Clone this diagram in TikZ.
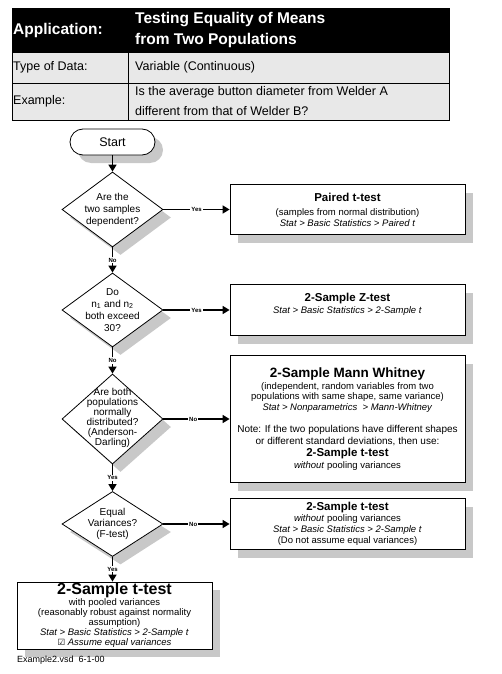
\documentclass[tikz,border=0pt]{standalone}
\usepackage{fontspec}
\setmainfont{Liberation Sans}
\newfontfamily\symfont{DejaVu Sans}
\usetikzlibrary{shapes.geometric,arrows.meta}

\definecolor{rowgray}{RGB}{232,232,232}
\definecolor{shadowgray}{RGB}{200,200,200}

\newcommand{\boxtitle}{\bfseries\fontsize{11.5}{13}\selectfont}
\newcommand{\bigboxtitle}{\bfseries\fontsize{13.5}{15}\selectfont}
\newcommand{\hugeboxtitle}{\bfseries\fontsize{16}{17}\selectfont}

\tikzset{
    shadowed/.style={preaction={fill=shadowgray, draw=none, transform canvas={xshift=8pt, yshift=-8pt}}},
    cell/.style={anchor=west, inner sep=2pt, align=left},
    headtext/.style={cell, text=white, font=\bfseries\fontsize{15.5}{21.5}\selectfont},
    bodytext/.style={cell, font=\fontsize{12.5}{20}\selectfont},
    decision/.style={diamond, draw, line width=0.8pt, fill=white, inner sep=0pt, minimum width=101pt, shadowed},
    qtext/.style={align=center, inner sep=0pt, font=\fontsize{10}{12}\selectfont},
    result/.style={rectangle, draw, line width=0.8pt, fill=white, align=center, minimum width=235pt, inner sep=2pt, shadowed},
    flow/.style={line width=1.6pt, -{Triangle[length=7pt, width=8pt]}},
    answer/.style={fill=white, inner sep=1pt, font=\bfseries\fontsize{6}{6}\selectfont}
}

\begin{document}
\begin{tikzpicture}[x=1pt, y=1pt, every node/.style={font=\fontsize{9.5}{11}\selectfont}]
            \useasboundingbox (0,0) rectangle (501,-674);

            \fill[black] (12,-8) rectangle (449,-52);
            \filldraw[fill=rowgray, line width=0.8pt] (12,-52) rectangle (449,-83);
            \filldraw[fill=rowgray, line width=0.8pt] (12,-83) rectangle (449,-120);
            \draw[line width=0.8pt] (128,-52) -- (128,-120);
            \draw[line width=0.8pt] (12,-8) rectangle (449,-120);

            \node[headtext] (app) at (11,-30) {Application:};
            \node[headtext] (apptitle) at (133,-30) {Testing Equality of Means\\from Two Populations};
            \node[bodytext] (typelbl) at (11,-67) {Type of Data:};
            \node[bodytext] (typeval) at (133,-67) {Variable (Continuous)};
            \node[bodytext] (exlbl) at (11,-101) {Example:};
            \node[bodytext] (exval) at (133,-101.5) {Is the average button diameter from Welder A\\different from that of Welder B?};

            \node[rectangle, draw, line width=0.8pt, fill=white, rounded corners=13pt, minimum width=85pt, minimum height=26pt, shadowed, font=\fontsize{12.5}{14}\selectfont] (start) at (112.5,-142) {Start};

            \node[decision, minimum height=75pt] (q1) at (112.5,-209.5) {};
            \node[qtext] (q1t) at (q1) {Are the\\two samples\\dependent?};
            \node[decision, minimum height=74pt] (q2) at (112.5,-310) {};
            \node[qtext] (q2t) at (q2) {Do\\n\textsubscript{1} and n\textsubscript{2}\\both exceed\\30?};
            \node[decision, minimum height=90pt] (q3) at (112.5,-419) {};
            \node[qtext, font=\fontsize{10}{10}\selectfont] (q3t) at ([yshift=1pt]q3.center) {Are both\\populations\\normally\\distributed?\\(Anderson-\\Darling)};
            \node[decision, minimum height=65pt] (q4) at (112.5,-524) {};
            \node[qtext, font=\fontsize{10}{11}\selectfont] (q4t) at (q4) {Equal\\Variances?\\(F-test)};

            \node[result, minimum height=50pt] (paired) at (347.5,-209.5) {{\boxtitle Paired t-test}\\[3pt]
                (samples from normal distribution)\\
                \textit{Stat > Basic Statistics > Paired t}};
            \node[result, minimum height=51pt] (ztest) at (347.5,-310) {};
            \node[align=center, inner sep=0pt] (ztestt) at ([yshift=6pt]ztest.center) {{\boxtitle 2-Sample Z-test}\\[1pt]
                \textit{Stat > Basic Statistics > 2-Sample t}};
            \node[result, minimum height=127pt, font=\fontsize{9.5}{10.5}\selectfont] (mann) at (347.5,-419) {{\bigboxtitle 2-Sample Mann Whitney}\\[1pt]
                (independent, random variables from two\\
                populations with same shape, same variance)\\
                \textit{Stat > Nonparametrics~ > Mann-Whitney}\\[12pt]
                {\fontsize{10}{12}\selectfont Note: If the two populations have different shapes}\\[1.5pt]
                {\fontsize{10}{12}\selectfont or different standard deviations, then use:}\\[1.5pt]
                {\boxtitle 2-Sample t-test}\\[1pt]
                \textit{without} pooling variances};
            \node[result, minimum height=51pt] (unpooled) at (347.5,-524) {{\boxtitle 2-Sample t-test}\\
                \textit{without} pooling variances\\
                \textit{Stat > Basic Statistics > 2-Sample t}\\
                (Do not assume equal variances)};
            \node[result, minimum width=195pt, minimum height=67pt, inner sep=0pt, font=\fontsize{9.5}{10}\selectfont] (pooled) at (114.5,-615.5) {{\hugeboxtitle 2-Sample t-test}\\
                with pooled variances\\
                (reasonably robust against normality\\
                assumption)\\
                \textit{Stat > Basic Statistics > 2-Sample t}\\
                {\symfont\fontsize{8.5}{10}\selectfont ☑} \textit{Assume equal variances}};

            \node[anchor=west, inner sep=0pt, font=\fontsize{9}{10}\selectfont] (footer) at (17,-660) {Example2.vsd\ \ 6-1-00};

            \draw[flow] (start) -- (q1);
            \draw[flow] (q1) -- node[answer] (a1) {Yes} (paired);
            \draw[flow] (q1) -- node[answer] (a2) {No} (q2);
            \draw[flow] (q2) -- node[answer] (a3) {Yes} (ztest);
            \draw[flow] (q2) -- node[answer] (a4) {No} (q3);
            \draw[flow] (q3) -- node[answer, pos=0.45] (a5) {No} (mann);
            \draw[flow] (q3) -- node[answer] (a6) {Yes} (q4);
            \draw[flow] (q4) -- node[answer, pos=0.45] (a7) {No} (unpooled);
            \draw[flow] (q4.south) -- node[answer] (a8) {Yes} (q4.south |- pooled.north);
        \end{tikzpicture}
\end{document}
